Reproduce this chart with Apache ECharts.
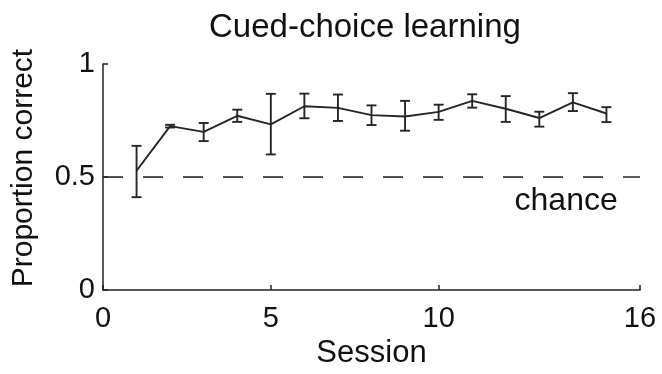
<!DOCTYPE html>
<html>
<head>
<meta charset="utf-8">
<script src="https://cdn.jsdelivr.net/npm/echarts@6/dist/echarts.min.js"></script>
<style>
html,body{margin:0;padding:0;background:#fff;}
#chart{width:662px;height:374px;}
</style>
</head>
<body>
<div id="chart"></div>
<script>
const titleText = "Cued-choice learning";
const xAxisName = "Session";
const yAxisName = "Proportion correct";
const chanceText = "chance";
const chanceLevel = 0.5;
const chanceLabelSession = 13.8;
const sessions = [1, 2, 3, 4, 5, 6, 7, 8, 9, 10, 11, 12, 13, 14, 15];
const meanCorrect = [0.528, 0.725, 0.700, 0.771, 0.733, 0.813, 0.806, 0.774, 0.768, 0.788, 0.837, 0.802, 0.761, 0.830, 0.781];
const errLower = [0.411, 0.719, 0.659, 0.744, 0.600, 0.760, 0.748, 0.730, 0.705, 0.753, 0.807, 0.744, 0.723, 0.792, 0.743];
const errUpper = [0.638, 0.731, 0.739, 0.798, 0.868, 0.869, 0.865, 0.817, 0.837, 0.820, 0.866, 0.858, 0.789, 0.871, 0.809];
const xTicks = [0, 5, 10, 16];
const yTicks = [0, 0.5, 1];
const xRange = [0, 16];
const yRange = [0, 1];

const ink = "#262626";
const font = "'Liberation Sans', Arial, Helvetica, sans-serif";

const chart = echarts.init(document.getElementById('chart'), null, {renderer: 'canvas'});

const lineData = sessions.map((s, i) => [s, meanCorrect[i]]);
const errData = sessions.map((s, i) => [s, errLower[i], errUpper[i]]);
const chanceData = [[xRange[0], chanceLevel], [xRange[1], chanceLevel]];

const option = {
  animation: false,
  backgroundColor: '#ffffff',
  graphic: [{
    type: 'text',
    left: 366 - 157,
    top: 11,
    style: {text: titleText, font: "33px " + font, fill: '#111'}
  }],
  grid: {left: 103, right: 22, top: 64, bottom: 73},
  xAxis: {
    type: 'value',
    min: xRange[0], max: xRange[1],
    name: xAxisName,
    nameLocation: 'middle',
    nameGap: 43,
    nameTextStyle: {fontFamily: font, fontSize: 31, color: '#111'},
    axisLine: {show: true, onZero: false, lineStyle: {color: '#222', width: 1.5}},
    axisTick: {show: true, inside: true, length: 5, customValues: xTicks, lineStyle: {color: '#222', width: 1.5}},
    axisLabel: {customValues: xTicks, margin: 14, fontFamily: font, fontSize: 29, color: '#111', formatter: v => String(v)},
    splitLine: {show: false}
  },
  yAxis: {
    type: 'value',
    min: yRange[0], max: yRange[1],
    name: yAxisName,
    nameLocation: 'middle',
    nameGap: 64,
    nameTextStyle: {fontFamily: font, fontSize: 30, color: '#111', padding: [0, 0, 0, 18]},
    axisLine: {show: true, onZero: false, lineStyle: {color: '#222', width: 1.5}},
    axisTick: {show: true, inside: true, length: 5, customValues: yTicks, lineStyle: {color: '#222', width: 1.5}},
    axisLabel: {customValues: yTicks, margin: 8, fontFamily: font, fontSize: 29, color: '#111', formatter: v => String(v)},
    splitLine: {show: false}
  },
  series: [
    {
      name: 'chance',
      type: 'line',
      data: chanceData,
      symbol: 'none',
      silent: true,
      lineStyle: {color: ink, width: 1.6, type: [20, 20]},
      z: 1
    },
    {
      name: 'chanceLabel',
      type: 'scatter',
      data: [[chanceLabelSession, chanceLevel]],
      symbolSize: 0,
      silent: true,
      itemStyle: {opacity: 1, color: '#111'},
      label: {
        show: true,
        position: 'inside',
        offset: [0, 24],
        formatter: chanceText,
        fontFamily: font,
        fontSize: 32,
        color: '#111',
        opacity: 1
      }
    },
    {
      name: 'mean',
      type: 'line',
      data: lineData,
      symbol: 'none',
      lineStyle: {color: ink, width: 1.9},
      z: 3
    },
    {
      name: 'err',
      type: 'custom',
      data: errData,
      z: 4,
      renderItem: function (params, api) {
        const x = api.value(0);
        const lo = api.coord([x, api.value(1)]);
        const hi = api.coord([x, api.value(2)]);
        const hw = 5;
        const st = {stroke: ink, lineWidth: 1.9};
        return {
          type: 'group',
          children: [
            {type: 'line', shape: {x1: lo[0], y1: lo[1], x2: hi[0], y2: hi[1]}, style: st},
            {type: 'line', shape: {x1: lo[0] - hw, y1: lo[1], x2: lo[0] + hw, y2: lo[1]}, style: st},
            {type: 'line', shape: {x1: hi[0] - hw, y1: hi[1], x2: hi[0] + hw, y2: hi[1]}, style: st}
          ]
        };
      }
    }
  ]
};
chart.setOption(option);
</script>
</body>
</html>
